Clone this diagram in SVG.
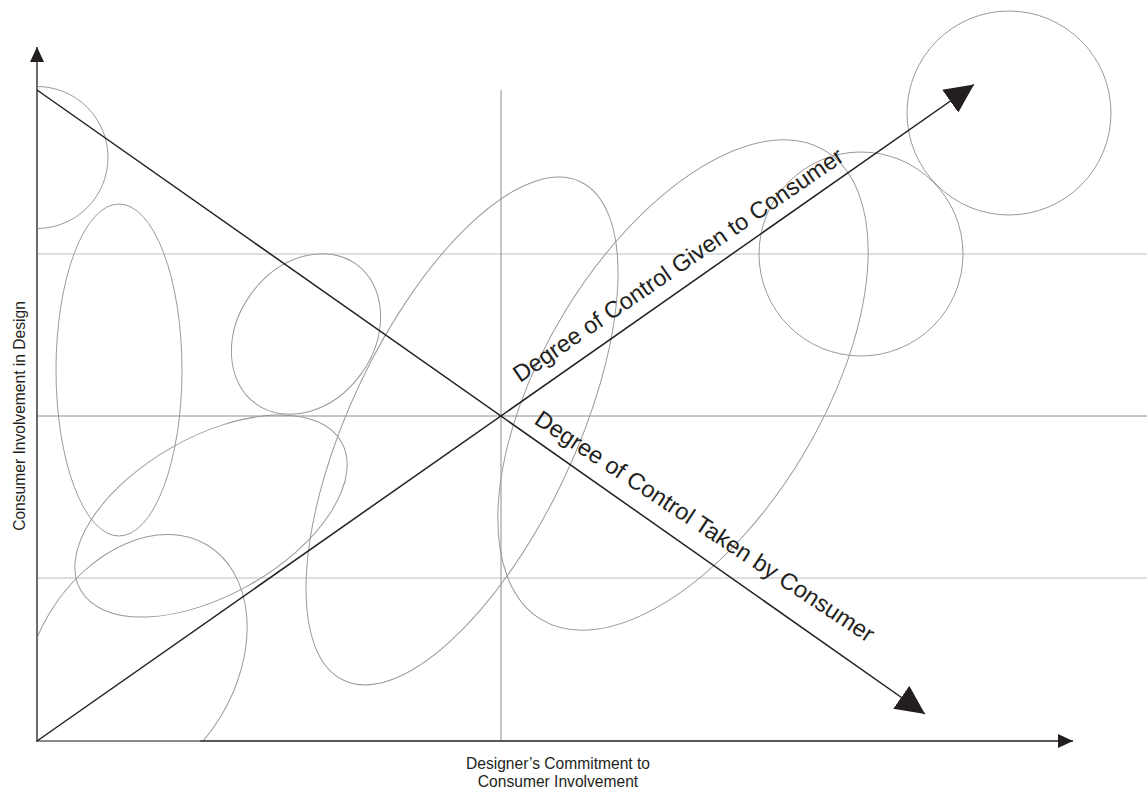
<svg xmlns="http://www.w3.org/2000/svg" width="1147" height="789" viewBox="0 0 1147 789">
<style>
.shape{fill:none;stroke:#9a9a9a;stroke-width:1}
.grid{stroke:#bdbdbd;stroke-width:1.2}
.mid{stroke:#8c8c8c;stroke-width:1}
.diag{stroke:#231f20;stroke-width:1.5;fill:none}
.lbl{font-family:"Liberation Sans",Arial,sans-serif;fill:#231f20}
</style>
<defs>
<clipPath id="plot"><rect x="37" y="0" width="1110" height="741"/></clipPath>
<marker id="big" markerUnits="userSpaceOnUse" markerWidth="29" markerHeight="28" refX="29" refY="14" orient="auto" viewBox="0 0 29 28"><path d="M0,0 L29,14 L0,28 Z" fill="#231f20"/></marker>
<marker id="ax" markerUnits="userSpaceOnUse" markerWidth="15" markerHeight="14" refX="15" refY="7" orient="auto" viewBox="0 0 15 14"><path d="M0,0 L15,7 L0,14 Z" fill="#231f20"/></marker>
</defs>
<rect width="1147" height="789" fill="#fff"/>
<g id="grid">
<line class="grid" x1="37" y1="254" x2="1147" y2="254"/>
<line class="mid" x1="37" y1="416" x2="1147" y2="416"/>
<line class="grid" x1="37" y1="578" x2="1147" y2="578"/>
<line class="mid" x1="501" y1="90" x2="501" y2="741"/>
</g>
<g id="shapes">
<circle class="shape" cx="37" cy="157.5" r="71" clip-path="url(#plot)"/>
<ellipse class="shape" cx="119" cy="370" rx="63" ry="166"/>
<ellipse class="shape" cx="306" cy="334" rx="86" ry="68" transform="rotate(-54.4 306 334)"/>
<ellipse class="shape" cx="211" cy="516" rx="150" ry="79" transform="rotate(-29.6 211 516)"/>
<g clip-path="url(#plot)"><ellipse class="shape" cx="135" cy="665" rx="140" ry="100" transform="rotate(-58.8 135 665)"/></g>
<ellipse class="shape" cx="462" cy="431" rx="276" ry="112.5" transform="rotate(-64.6 462 431)"/>
<ellipse class="shape" cx="683" cy="385" rx="274" ry="139" transform="rotate(-58.8 683 385)"/>
<circle class="shape" cx="861" cy="254" r="102"/>
<circle class="shape" cx="1009" cy="113" r="102"/>
</g>
<g id="connectors">
<line x1="37" y1="741" x2="1073" y2="741" stroke="#231f20" stroke-width="1.5" marker-end="url(#ax)"/>
<line x1="37" y1="741" x2="200" y2="741" stroke="#8a8a8a" stroke-width="2"/>
<line x1="37" y1="742" x2="37" y2="47" stroke="#6b6b6b" stroke-width="2" marker-end="url(#ax)"/>
<line class="diag" x1="37" y1="741" x2="974" y2="84.5" marker-end="url(#big)"/>
<line class="diag" x1="37" y1="90" x2="925" y2="714" marker-end="url(#big)"/>
</g>
<g id="labels">
<text class="lbl" font-size="23.5" transform="translate(520 383) rotate(-34.4)">Degree of Control Given to Consumer</text>
<text class="lbl" font-size="23.5" transform="translate(533 423) rotate(33.3)">Degree of Control Taken by Consumer</text>
<text class="lbl" font-size="15.6" text-anchor="middle" transform="translate(24.5 416) rotate(-90)">Consumer Involvement in Design</text>
<text class="lbl" font-size="15.6" text-anchor="middle" x="558" y="769">Designer’s Commitment to</text>
<text class="lbl" font-size="15.6" text-anchor="middle" x="558" y="787">Consumer Involvement</text>
</g>
</svg>
